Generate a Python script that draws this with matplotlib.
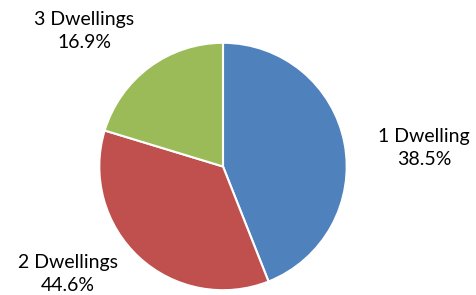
import matplotlib
matplotlib.use("Agg")
import matplotlib.pyplot as plt

categories = ["1 Dwelling", "2 Dwellings", "3 Dwellings"]
slice_values = [44.0, 35.7, 20.3]
label_texts = ["38.5%", "44.6%", "16.9%"]
colors = ["#4F81BD", "#C0504D", "#9BBB59"]

W, H = 476, 295
fig = plt.figure(figsize=(W / 100, H / 100), dpi=100)
ax = fig.add_axes([0, 0, 1, 1])

cx, cy, r = 223, H - 166.5, 123.7
ax.pie(slice_values, colors=colors, startangle=90, counterclock=False,
       center=(cx, cy), radius=r, frame=True,
       wedgeprops=dict(edgecolor="white", linewidth=1.5))
ax.set_xlim(0, W)
ax.set_ylim(0, H)
ax.set_aspect("equal")
ax.axis("off")

label_pos = [(424, H - 148), (68, H - 274), (84, H - 31)]
for cat, txt, (x, y) in zip(categories, label_texts, label_pos):
    ax.text(x, y, f"{cat}\n{txt}", ha="center", va="center",
            fontsize=14, family="Lato", linespacing=1.4, color="#000000")

fig.savefig("out.png", dpi=100)
